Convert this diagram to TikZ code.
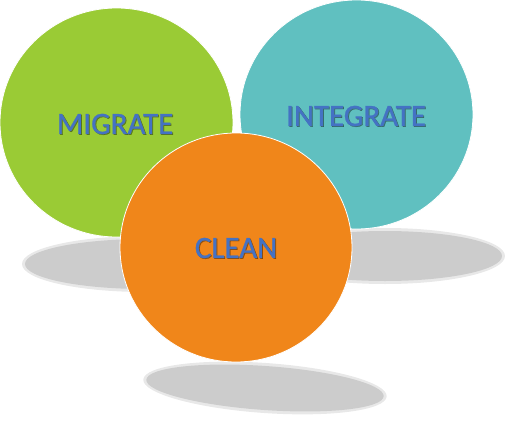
\documentclass[tikz,border=0pt]{standalone}
\usepackage{fontspec}
\setmainfont{Carlito}[FakeBold=0.8]
\definecolor{cgreen}{HTML}{9ACB35}
\definecolor{cteal}{HTML}{60C0C0}
\definecolor{corange}{HTML}{F0861A}
\definecolor{ctext}{HTML}{4472C4}
\definecolor{cshadow}{HTML}{CCCCCC}
\begin{document}
\begin{tikzpicture}[x=1pt,y=-1pt,
  bubble/.style={draw=white,line width=0.8pt},
  shade/.style={fill=cshadow},
  halo/.style={fill=cshadow,opacity=0.45},
  lbl/.style={font=\fontsize{31}{31}\selectfont,text=ctext,inner sep=0pt}]
\useasboundingbox (0,0) rectangle (512,423);
% shadows
\fill[halo] (145,264) ellipse [x radius=123,y radius=28];
\fill[shade] (145,264) ellipse [x radius=120,y radius=25];
\fill[halo] (385,256) ellipse [x radius=120,y radius=28];
\fill[shade] (385,256) ellipse [x radius=117,y radius=25];
\fill[halo,rotate around={-4:(265,388)}] (265,388) ellipse [x radius=122,y radius=25];
\fill[shade,rotate around={-4:(265,388)}] (265,388) ellipse [x radius=119,y radius=22];
% circles
\path[bubble,fill=cgreen] (116.5,122.5) ellipse [x radius=116.5,y radius=114.5];
\path[bubble,fill=cteal] (356.5,114.5) ellipse [x radius=116.5,y radius=114.5];
\path[bubble,fill=corange] (236,247.5) ellipse [x radius=116,y radius=114.5];
% labels
\node[lbl,text=black,opacity=0.35] at (116,124.8) {MIGRATE};
\node[lbl] (migrate) at (115,124) {MIGRATE};
\node[lbl,text=black,opacity=0.35] at (357,116.8) {INTEGRATE};
\node[lbl] (integrate) at (356,116) {INTEGRATE};
\node[lbl,text=black,opacity=0.35] at (237,248.8) {CLEAN};
\node[lbl] (clean) at (236,248) {CLEAN};
\end{tikzpicture}
\end{document}
